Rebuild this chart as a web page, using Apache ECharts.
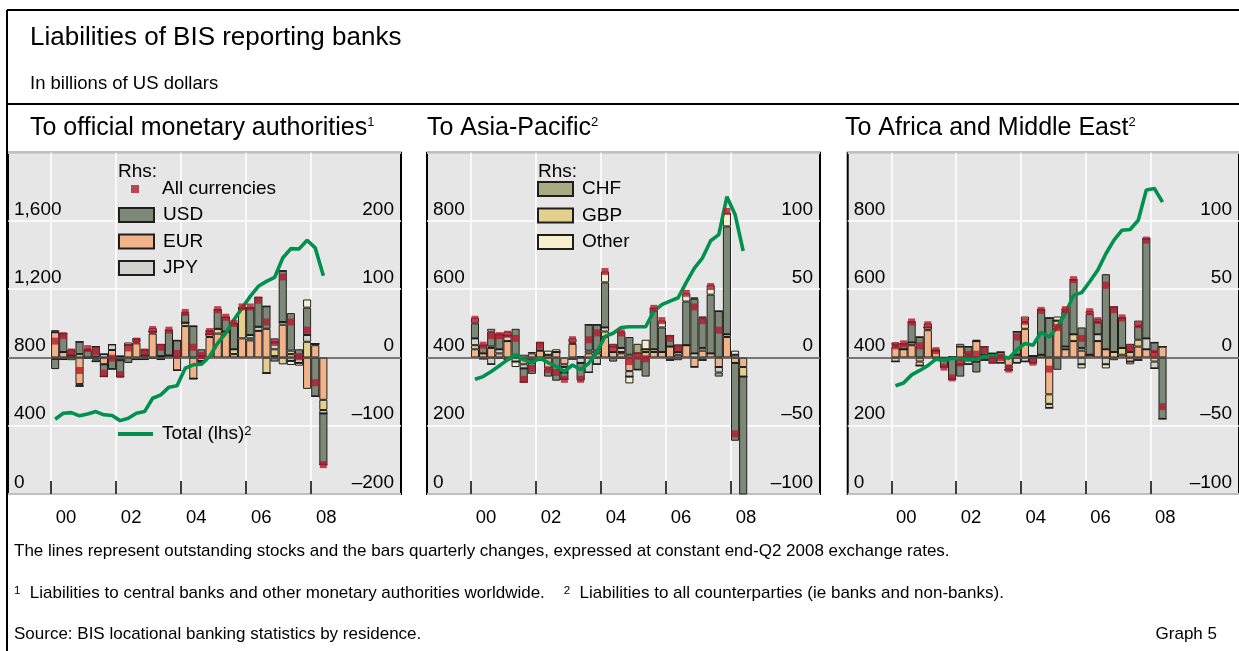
<!DOCTYPE html>
<html><head><meta charset="utf-8">
<script src="https://cdn.jsdelivr.net/npm/echarts@6/dist/echarts.min.js"></script>
<style>html,body{margin:0;padding:0;background:#fff}#c{width:1239px;height:651px}</style>
</head><body><div id="c"></div>
<script>
// quarters 2000Q1 .. 2008Q2
const quarters = ['2000Q1','2000Q2','2000Q3','2000Q4','2001Q1','2001Q2','2001Q3','2001Q4','2002Q1','2002Q2','2002Q3','2002Q4','2003Q1','2003Q2','2003Q3','2003Q4','2004Q1','2004Q2','2004Q3','2004Q4','2005Q1','2005Q2','2005Q3','2005Q4','2006Q1','2006Q2','2006Q3','2006Q4','2007Q1','2007Q2','2007Q3','2007Q4','2008Q1','2008Q2'];
const yearTickLabels = ['00','02','04','06','08'];

// Panel 1: official monetary authorities (rhs, quarterly changes)
const p1_EUR   = [37, 8, 0, -39, 0, 1, -10, 11, -4, 18, 22, 3, 35, 2, 3, -19, 46, -31, 2, 30, 35, 38, 5, 28, 25, 39, 42, 2, 48, 5, 0, -46, 18, -62];
const p1_GBP   = [0, 0, 3, 5, 0, -3, 0, 0, 0, 0, -3, 0, 3, 0, 0, 0, 5, 0, 0, 4, 7, 0, 7, 45, 3, 0, -23, 10, -10, 5, 4, 23, 2, -15];
const p1_JPY   = [-2, -3, 0, -3, -1, -3, 5, 8, 2, 0, 0, -3, 0, -3, 0, 0, 0, 0, -5, 0, 0, 0, 0, 0, 5, 6, 0, 10, 4, -5, -8, 10, 0, -5];
const p1_CHF   = [0, 0, 0, 0, 0, 0, 0, 0, 0, 0, 0, 0, 0, 0, 0, 0, 0, 0, 0, 0, 0, 0, 0, 0, 0, 0, 0, 0, 0, 0, 0, 0, 0, 0];
const p1_USD   = [-15, 27, 9, 18, 11, 15, -18, -17, -24, -8, 5, 8, -2, 17, 37, 25, 13, 46, 10, 5, 28, 21, 38, 0, 40, 43, 33, -6, 75, 55, 8, 40, -57, -75];
const p1_Other = [3, 0, -4, 0, 2, 0, 0, 0, 0, 4, 0, 0, 5, 0, 0, 0, 3, 0, -3, 0, 0, 0, 0, 0, 0, 0, 0, 6, 0, -6, -4, 12, 0, 0];
const p1_All   = [24, 32, 8, -19, 13, 9, -23, -1, -25, 14, 24, 8, 41, 15, 40, 6, 66, 15, 3, 38, 70, 59, 50, 74, 74, 84, 52, 22, 118, 52, 1, 40, -37, -157];
const p1_Total = [438, 473, 477, 458, 469, 483, 464, 460, 430, 444, 473, 483, 561, 581, 626, 634, 737, 757, 760, 806, 884, 943, 1021, 1090, 1158, 1217, 1246, 1269, 1383, 1438, 1436, 1487, 1442, 1279];

// Panel 2: Asia-Pacific
const p2_EUR   = [6, 3, 7, 3, 12, 1, -5, 3, 5, -8, 4, -5, 10, 0, 3, 3, 15, 4, 3, -10, 3, 4, 4, 4, 8, 2, 9, -7, 5, 3, -7, 15, -4, -7];
const p2_GBP   = [3, 0, 1, -1, 0, 0, 2, -2, 0, 2, 0, -2, 1, 0, 2, 2, 4, 0, 1, 2, 0, 2, 2, 0, 0, -2, 0, 0, 2, 0, 0, 2, 0, -7];
const p2_JPY   = [5, -1, -5, 3, 4, -3, -3, -2, -2, 0, 0, -4, -1, -4, -11, -5, 3, 4, 3, -4, 0, 0, 0, 0, -2, 2, 0, 3, -2, 0, -4, 0, 2, 0];
const p2_CHF   = [0, 0, 0, 0, 0, 0, 0, 0, 0, 0, 0, 0, 0, 0, 0, 0, 0, 0, 0, 0, 7, 0, 0, 0, 0, 0, 0, 0, 0, 0, -3, 0, 0, 0];
const p2_USD   = [11, 6, 11, 11, -2, 20, -10, -8, 6, -6, -17, -5, 0, -13, 19, 19, 33, -3, 12, 13, -9, -14, 30, 18, 8, 5, 32, 40, 22, 43, 34, 79, -57, -100];
const p2_Other = [4, 0, 2, 0, 3, -4, 0, 1, 0, 3, 2, 0, 3, 1, 0, 0, 8, 2, -1, -5, 0, 7, 0, 5, 0, 0, 6, 1, 1, 7, 0, 10, 3, 0];
const p2_All   = [28, 9, 16, 16, 17, 14, -16, -8, 9, -9, -11, -16, 13, -16, 13, 18, 63, 7, 18, -3, 1, -1, 36, 27, 14, 7, 47, 37, 27, 52, 20, 107, -56, -114];
const p2_Total = [336, 344, 359, 376, 393, 408, 393, 385, 398, 385, 374, 359, 378, 364, 383, 415, 462, 471, 488, 490, 490, 490, 535, 555, 565, 575, 620, 662, 692, 742, 760, 871, 819, 712];

// Panel 3: Africa and Middle East
const p3_EUR   = [8, 6, 9, -3, 20, 5, 0, 0, 8, -2, 12, 2, 2, 0, -6, 2, 21, 1, 0, -27, 22, 6, 12, 5, 2, 12, 6, -2, 2, 4, 8, 6, 4, 8];
const p3_GBP   = [1, 0, 2, -3, 2, 0, 0, 1, 0, 2, 0, 0, 1, 0, -2, 0, 5, 0, 2, -7, 5, 0, 5, 2, 0, 0, 0, 4, 5, -3, 5, 0, -3, 0];
const p3_JPY   = [-3, 0, 0, 0, 0, 0, 0, -1, -5, -3, -3, -2, 0, -4, -1, -4, -3, 0, 0, -3, 0, 2, 0, -5, 0, 5, -5, 0, 0, 0, -2, 8, -5, 0];
const p3_CHF   = [0, 0, 0, 0, 0, 0, 0, 0, 0, 0, 0, 0, 0, 0, 0, 0, 0, 0, 0, 0, 0, 0, 0, 0, 0, 0, 0, 0, 0, 0, 0, 0, 0, 0];
const p3_USD   = [0, 4, 15, 15, 0, -1, -7, -15, -9, 6, -8, 6, -4, 4, 0, 17, 0, -4, 33, 29, -9, 26, 40, 15, 30, 9, 55, 33, 22, 6, 10, 73, 7, -45];
const p3_Other = [2, 0, 0, 0, 3, 1, 0, 0, 2, 0, 1, 0, 0, 0, 0, 0, 4, 0, 0, 0, 3, 2, 0, -3, 2, 2, -3, 0, 0, -2, 4, 0, 0, 0];
const p3_All   = [8.5, 10, 26, 8.5, 24, 5, -7, -15, -4, 2.4, 2.4, 5.6, -1.7, 0, -8.5, 15, 26.5, -3.4, 34.5, -8.5, 22, 35, 57, 14, 33.5, 27, 53, 35, 29, 7, 24, 86, 3, -36];
const p3_Total = [317, 325, 349, 362, 376, 395, 391, 398, 395, 393, 396, 403, 405, 405, 398, 422, 441, 436, 474, 460, 489, 529, 582, 590, 622, 656, 704, 744, 773, 775, 802, 891, 895, 855];

const FONT = '"Liberation Sans", Arial, Helvetica, sans-serif';
const currencies = ['EUR','GBP','JPY','CHF','USD','Other'];
const colors = {EUR:'#f3b388', GBP:'#e5cf8c', JPY:'#d2d2cc', CHF:'#a8aa7f', USD:'#7e8877', Other:'#f6efcc'};
const LINE_GREEN = '#00914d';

const panels = [
  {left:8,     xmin:-5.3, lmax:2000, lint:400, rmin:-200, rmax:300, rint:100,
   data:{EUR:p1_EUR,GBP:p1_GBP,JPY:p1_JPY,CHF:p1_CHF,USD:p1_USD,Other:p1_Other}, all:p1_All, total:p1_Total},
  {left:427,   xmin:-5.4, lmax:1000, lint:200, rmin:-100, rmax:150, rint:50,
   data:{EUR:p2_EUR,GBP:p2_GBP,JPY:p2_JPY,CHF:p2_CHF,USD:p2_USD,Other:p2_Other}, all:p2_All, total:p2_Total},
  {left:847.7, xmin:-5.4, lmax:1000, lint:200, rmin:-100, rmax:150, rint:50,
   data:{EUR:p3_EUR,GBP:p3_GBP,JPY:p3_JPY,CHF:p3_CHF,USD:p3_USD,Other:p3_Other}, all:p3_All, total:p3_Total}
];

const grid = [], xAxis = [], yAxis = [], series = [];
panels.forEach((p, k) => {
  grid.push({left:p.left, top:152.7, width:393, height:341.3, show:true,
             backgroundColor:'#e6e6e6', borderColor:'#000', borderWidth:2, containLabel:false});
  xAxis.push({type:'value', gridIndex:k, min:p.xmin, max:p.xmin + 48.35,
    axisLine:{show:false},
    axisTick:{show:true, inside:true, length:13, lineStyle:{color:'#000', width:1.5},
              customValues:[0, 8, 16, 24, 32]},
    splitLine:{show:true, lineStyle:{color:'#ffffff', width:1.5}},
    axisLabel:{show:true, customValues:[1.85, 9.85, 17.85, 25.85, 33.85],
      formatter: v => yearTickLabels[Math.round((v - 1.85) / 8)],
      fontSize:18.5, color:'#000', fontFamily:FONT, margin:14}
  });
  yAxis.push({type:'value', gridIndex:k, position:'left', min:0, max:p.lmax, interval:p.lint,
    axisLine:{show:false}, axisTick:{show:false},
    splitLine:{show:true, lineStyle:{color:'#ffffff', width:1.5}},
    axisLabel:{inside:true, align:'left', verticalAlign:'bottom', margin:6, padding:[0,0,2,0],
      showMaxLabel:false, fontSize:19, color:'#000', fontFamily:FONT,
      formatter: v => v.toLocaleString('en-US')}
  });
  yAxis.push({type:'value', gridIndex:k, position:'right', min:p.rmin, max:p.rmax, interval:p.rint,
    axisLine:{show:false}, axisTick:{show:false}, splitLine:{show:false},
    axisLabel:{inside:true, align:'right', verticalAlign:'bottom', margin:7, padding:[0,0,2,0],
      showMaxLabel:false, fontSize:19, color:'#000', fontFamily:FONT,
      formatter: v => v < 0 ? '\u2013' + Math.abs(v) : String(v)}
  });
  currencies.forEach((c, ci) => {
    const s = {type:'bar', name:c, xAxisIndex:k, yAxisIndex:2*k+1, stack:'p'+k,
      barWidth:8.1, z:2,
      encode:{x:1, y:0},
      itemStyle:{color:colors[c], borderColor:'#1e1e1e', borderWidth:1},
      emphasis:{disabled:true},
      data: p.data[c].map((v, i) => [v, i + 0.5])};
    if (ci === 0) {
      s.markLine = {silent:true, symbol:['none','none'], label:{show:false}, z:3,
        lineStyle:{color:'#4a4a4a', width:1.6, type:'solid'}, data:[{yAxis:0}]};
    }
    series.push(s);
  });
  series.push({type:'line', name:'Total (lhs)', xAxisIndex:k, yAxisIndex:2*k, z:4,
    symbol:'none', itemStyle:{color:LINE_GREEN}, lineStyle:{color:LINE_GREEN, width:3.6}, emphasis:{disabled:true},
    data: p.total.map((v, i) => [i + 0.5, v])});
  series.push({type:'scatter', name:'All currencies', xAxisIndex:k, yAxisIndex:2*k+1, z:5,
    symbol:'rect', symbolSize:7, itemStyle:{color:'#b11a2c'}, emphasis:{disabled:true},
    data: p.all.map((v, i) => [i + 0.5, v])});
});

const ts = (size) => ({fontSize:size, fontWeight:'normal', color:'#000', fontFamily:FONT});
const sup = {s:{fontSize:13, verticalAlign:'top', fontFamily:FONT, color:'#000'}};
const legendBase = {padding:0, selectedMode:false, orient:'vertical', itemWidth:35, itemHeight:14, itemGap:7.5,
  textStyle:{fontSize:19, color:'#000', fontFamily:FONT, padding:[0,0,0,4]}};

const option = {
  animation:false,
  backgroundColor:'#ffffff',
  grid, xAxis, yAxis, series,
  title:[
    {text:'Liabilities of BIS reporting banks', left:30, top:25, padding:0, textStyle:ts(26)},
    {text:'In billions of US dollars', left:30, top:74, padding:0, textStyle:ts(18.5)},
    {text:'To official monetary authorities{s|1}', left:30, top:116, padding:0, textStyle:Object.assign(ts(25), {rich:sup})},
    {text:'To Asia-Pacific{s|2}', left:427, top:116, padding:0, textStyle:Object.assign(ts(25), {rich:sup})},
    {text:'To Africa and Middle East{s|2}', left:845, top:116, padding:0, textStyle:Object.assign(ts(25), {rich:sup})},
    {text:'Rhs:', left:118, top:162, padding:0, textStyle:ts(19)},
    {text:'Rhs:', left:538, top:162, padding:0, textStyle:ts(19)},
    {text:'The lines represent outstanding stocks and the bars quarterly changes, expressed at constant end-Q2 2008 exchange rates.',
     left:14, top:543, padding:0, textStyle:ts(17)},
    {text:'{s|1}  Liabilities to central banks and other monetary authorities worldwide.    {s|2}  Liabilities to all counterparties (ie banks and non-banks).',
     left:14, top:585, padding:0, textStyle:Object.assign(ts(17), {rich:{s:{fontSize:11.5, verticalAlign:'top', fontFamily:FONT, color:'#000'}}})},
    {text:'Source: BIS locational banking statistics by residence.', left:14, top:626, padding:0, textStyle:ts(17)},
    {text:'Graph 5', right:22, top:626, padding:0, textStyle:ts(17)}
  ],
  legend:[
    Object.assign({}, legendBase, {data:[{name:'All currencies', icon:'rect'}], left:131, top:179.5, itemWidth:8, itemHeight:8,
      textStyle:{fontSize:19, color:'#000', fontFamily:FONT, padding:[0,0,0,18]}}),
    Object.assign({}, legendBase, {data:[{name:'USD',icon:'rect'},{name:'EUR',icon:'rect'},{name:'JPY',icon:'rect'}], left:118, top:205.5}),
    Object.assign({}, legendBase, {data:[{name:'Total (lhs)', icon:'rect', itemStyle:{color:LINE_GREEN, borderWidth:0}}], left:118, top:424.5,
      itemHeight:4,
      formatter: n => n + '{s|2}',
      textStyle:{fontSize:19, color:'#000', fontFamily:FONT, padding:[0,0,0,4], rich:sup}}),
    Object.assign({}, legendBase, {data:[{name:'CHF',icon:'rect'},{name:'GBP',icon:'rect'},{name:'Other',icon:'rect'}], left:537, top:179.5})
  ],
  graphic:[
    {type:'line', silent:true, shape:{x1:7, y1:10, x2:1239, y2:10}, style:{stroke:'#000', lineWidth:2}},
    {type:'line', silent:true, shape:{x1:7, y1:104, x2:1239, y2:104}, style:{stroke:'#000', lineWidth:2}},
    {type:'line', silent:true, shape:{x1:7, y1:10, x2:7, y2:651}, style:{stroke:'#000', lineWidth:2}}
  ]
};

const chart = echarts.init(document.getElementById('c'), null, {renderer:'canvas'});
chart.setOption(option);
</script>
</body></html>
